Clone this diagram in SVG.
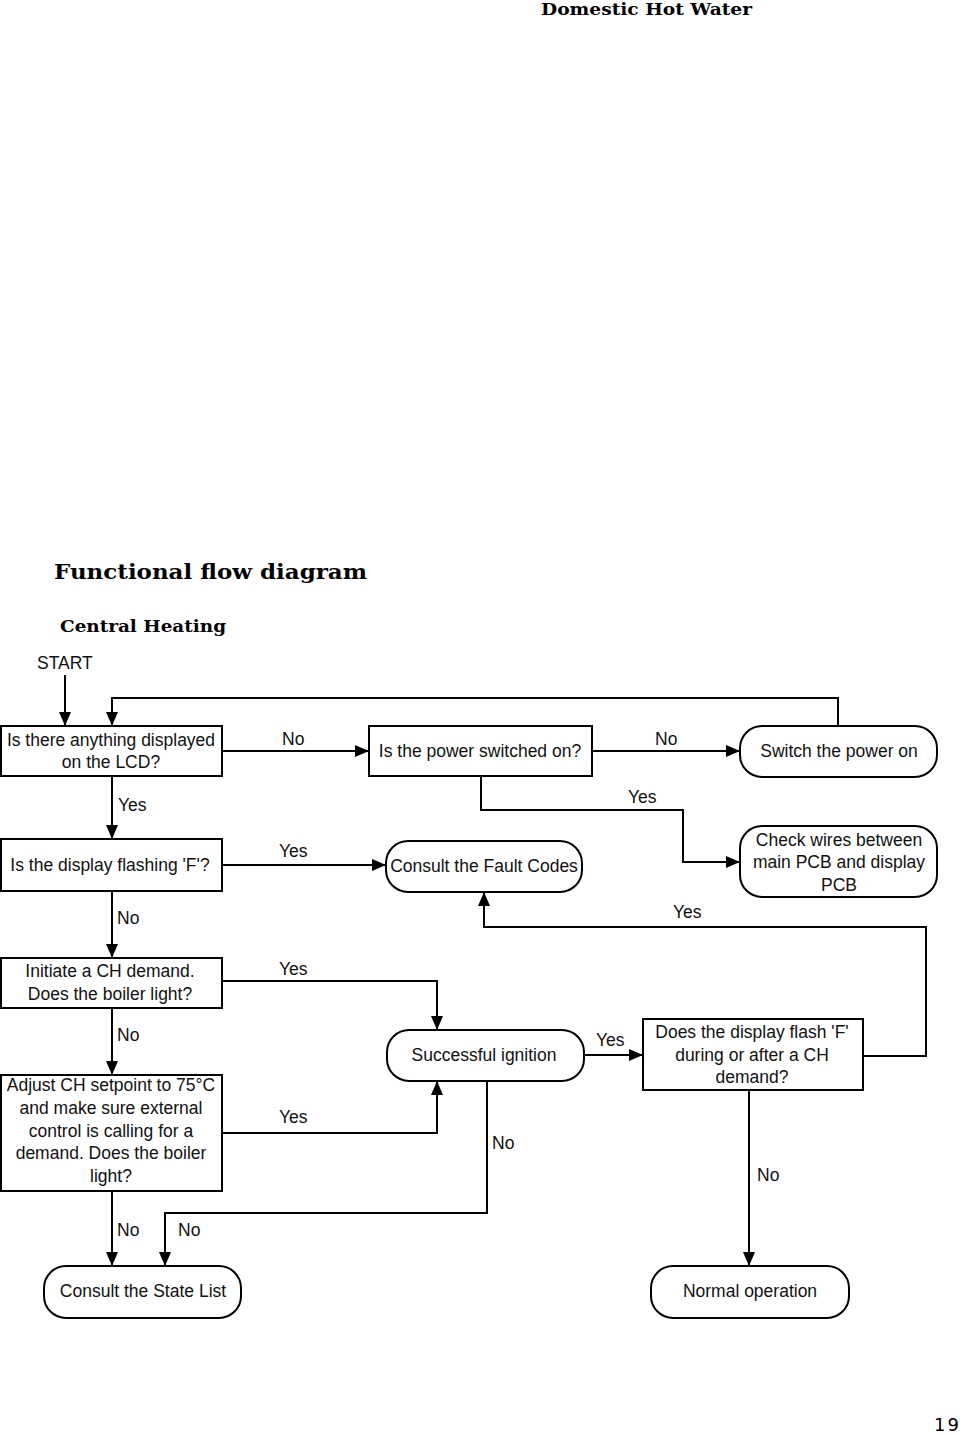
<svg xmlns="http://www.w3.org/2000/svg" width="960" height="1434" viewBox="0 0 960 1434">
<style>
.box{fill:#fff;stroke:#000;stroke-width:2}
.t{font-family:"Liberation Sans",Arial,sans-serif;font-size:17.5px;fill:#111;text-anchor:middle}
.l{font-family:"Liberation Sans",Arial,sans-serif;font-size:17.5px;fill:#111}
.c{fill:none;stroke:#000;stroke-width:2}
.h{font-family:"DejaVu Serif","Liberation Serif",serif;font-weight:bold;fill:#000}
</style>
<defs>
<marker id="ah" viewBox="0 0 14 12" refX="14" refY="6" markerWidth="14" markerHeight="12" markerUnits="userSpaceOnUse" orient="auto">
<path d="M0,0 L14,6 L0,12 Z" fill="#000"/>
</marker>
</defs>
<rect width="960" height="1434" fill="#fff"/>
<text class="h" x="541" y="15" font-size="16" textLength="211" lengthAdjust="spacingAndGlyphs">Domestic Hot Water</text>
<text class="h" x="54" y="579" font-size="21" textLength="313" lengthAdjust="spacingAndGlyphs">Functional flow diagram</text>
<text class="h" x="60" y="632" font-size="17" textLength="166" lengthAdjust="spacingAndGlyphs">Central Heating</text>
<text x="934" y="1431" font-family="'DejaVu Sans','Liberation Sans',sans-serif" font-size="18" letter-spacing="2">19</text>
<text class="l" x="37" y="669">START</text>
<g id="connectors">
<path class="c" d="M65,675 V726" marker-end="url(#ah)"/>
<path class="c" d="M838,726 V698 H112 V726" marker-end="url(#ah)"/>
<path class="c" d="M222,751 H369" marker-end="url(#ah)"/>
<path class="c" d="M592,751 H740" marker-end="url(#ah)"/>
<path class="c" d="M481,776 V810 H683 V862 H740" marker-end="url(#ah)"/>
<path class="c" d="M112,776 V839" marker-end="url(#ah)"/>
<path class="c" d="M222,865 H386" marker-end="url(#ah)"/>
<path class="c" d="M863,1056 H926 V927 H484 V892" marker-end="url(#ah)"/>
<path class="c" d="M112,891 V958" marker-end="url(#ah)"/>
<path class="c" d="M222,981 H437 V1030" marker-end="url(#ah)"/>
<path class="c" d="M112,1008 V1075" marker-end="url(#ah)"/>
<path class="c" d="M222,1133 H437 V1081" marker-end="url(#ah)"/>
<path class="c" d="M584,1055 H643" marker-end="url(#ah)"/>
<path class="c" d="M749,1090 V1266" marker-end="url(#ah)"/>
<path class="c" d="M487,1081 V1213 H165 V1266" marker-end="url(#ah)"/>
<path class="c" d="M112,1191 V1266" marker-end="url(#ah)"/>
<text class="l" x="282" y="745">No</text>
<text class="l" x="655" y="745">No</text>
<text class="l" x="628" y="803">Yes</text>
<text class="l" x="118" y="811">Yes</text>
<text class="l" x="279" y="857">Yes</text>
<text class="l" x="673" y="918">Yes</text>
<text class="l" x="117" y="924">No</text>
<text class="l" x="279" y="975">Yes</text>
<text class="l" x="117" y="1041">No</text>
<text class="l" x="596" y="1046">Yes</text>
<text class="l" x="279" y="1123">Yes</text>
<text class="l" x="492" y="1149">No</text>
<text class="l" x="757" y="1181">No</text>
<text class="l" x="117" y="1236">No</text>
<text class="l" x="178" y="1236">No</text>
</g>
<g id="n1"><rect class="box" x="1" y="726" width="221" height="50"/>
<text class="t" x="111" y="746">Is there anything displayed</text><text class="t" x="111" y="768">on the LCD?</text></g>
<g id="n2"><rect class="box" x="369" y="726" width="223" height="50"/>
<text class="t" x="480" y="757">Is the power switched on?</text></g>
<g id="n3"><rect class="box" x="740" y="726" width="197" height="51" rx="22"/>
<text class="t" x="839" y="757">Switch the power on</text></g>
<g id="n4"><rect class="box" x="740" y="826" width="197" height="71" rx="22"/>
<text class="t" x="839" y="846">Check wires between</text><text class="t" x="839" y="868">main PCB and display</text><text class="t" x="839" y="891">PCB</text></g>
<g id="n5"><rect class="box" x="1" y="839" width="221" height="52"/>
<text class="t" x="110" y="871">Is the display flashing 'F'?</text></g>
<g id="n6"><rect class="box" x="386" y="841" width="196" height="51" rx="22"/>
<text class="t" x="484" y="872">Consult the Fault Codes</text></g>
<g id="n7"><rect class="box" x="1" y="958" width="221" height="50"/>
<text class="t" x="110" y="977">Initiate a CH demand.</text><text class="t" x="110" y="1000">Does the boiler light?</text></g>
<g id="n8"><rect class="box" x="387" y="1030" width="197" height="51" rx="22"/>
<text class="t" x="484" y="1061">Successful ignition</text></g>
<g id="n9"><rect class="box" x="643" y="1019" width="220" height="71"/>
<text class="t" x="752" y="1038">Does the display flash 'F'</text><text class="t" x="752" y="1061">during or after a CH</text><text class="t" x="752" y="1083">demand?</text></g>
<g id="n10"><rect class="box" x="1" y="1075" width="221" height="116"/>
<text class="t" x="111" y="1091">Adjust CH setpoint to 75°C</text><text class="t" x="111" y="1114">and make sure external</text><text class="t" x="111" y="1137">control is calling for a</text><text class="t" x="111" y="1159">demand. Does the boiler</text><text class="t" x="111" y="1182">light?</text></g>
<g id="n11"><rect class="box" x="44" y="1266" width="197" height="52" rx="22"/>
<text class="t" x="143" y="1297">Consult the State List</text></g>
<g id="n12"><rect class="box" x="651" y="1266" width="198" height="52" rx="22"/>
<text class="t" x="750" y="1297">Normal operation</text></g>
</svg>
